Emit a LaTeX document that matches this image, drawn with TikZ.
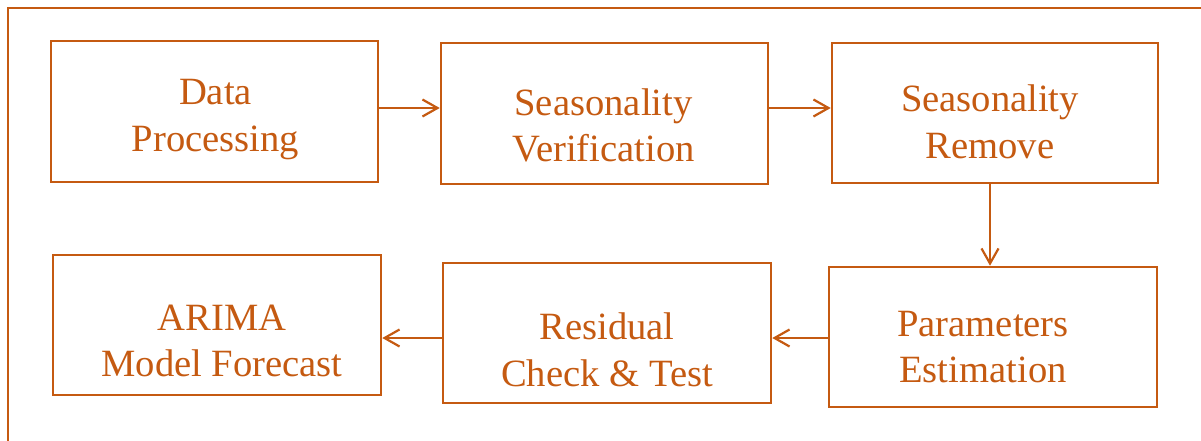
\documentclass[tikz,border=0pt]{standalone}
\usepackage{fontspec}
\setmainfont{Liberation Serif}
\usetikzlibrary{arrows.meta}
\definecolor{brn}{HTML}{C55A11}
\begin{document}
\begin{tikzpicture}[x=1pt,y=-1pt,
  stepbox/.style={draw=brn, line width=2.6pt, rectangle, inner sep=0pt},
  steptext/.style={text=brn, align=center, inner sep=0pt, font=\fontsize{38.6}{46.5}\selectfont},
  arr/.style={draw=brn, line width=2.2pt, -{Straight Barb[length=15pt,width=17pt,line width=2.2pt]}}]
\useasboundingbox (0,0) rectangle (1201,441);
\fill[white] (0,0) rectangle (1201,441);
\draw[brn, line width=2.4pt] (8,8) rectangle (1220,460);
% boxes
\node[stepbox, minimum width=327pt, minimum height=141pt] (dp) at (214.5,111.5) {};
\node[stepbox, minimum width=327pt, minimum height=141pt] (sv) at (604.5,113.5) {};
\node[stepbox, minimum width=326pt, minimum height=140pt] (sr) at (995,113) {};
\node[stepbox, minimum width=328pt, minimum height=140pt] (pe) at (993,337) {};
\node[stepbox, minimum width=328pt, minimum height=140pt] (rc) at (607,333) {};
\node[stepbox, minimum width=328pt, minimum height=140pt] (am) at (217,325) {};
% texts
\node[steptext] (dpt) at ([xshift=1pt,yshift=-8pt]dp.center) {Data\\Processing};
\node[steptext] (svt) at ([xshift=-1pt,yshift=-12pt]sv.center) {Seasonality\\Verification};
\node[steptext] (srt) at ([xshift=-5pt,yshift=-9pt]sr.center) {Seasonality\\Remove};
\node[steptext] (pet) at ([xshift=-10pt,yshift=-10pt]pe.center) {Parameters\\Estimation};
\node[steptext] (rct) at ([yshift=-17pt]rc.center) {Residual\\Check \& Test};
\node[steptext] (amt) at ([xshift=5pt,yshift=-16pt]am.center) {ARIMA\\Model Forecast};
% connectors
\coordinate (r1) at (0,108);
\coordinate (r2) at (0,338);
\coordinate (c1) at (990,0);
\draw[arr] (dp.east |- r1) -- (sv.west |- r1);
\draw[arr] (sv.east |- r1) -- (sr.west |- r1);
\draw[arr, line width=1.8pt] (sr.south -| c1) -- (pe.north -| c1);
\draw[arr] (pe.west |- r2) -- (rc.east |- r2);
\draw[arr] (rc.west |- r2) -- (am.east |- r2);
\end{tikzpicture}
\end{document}
